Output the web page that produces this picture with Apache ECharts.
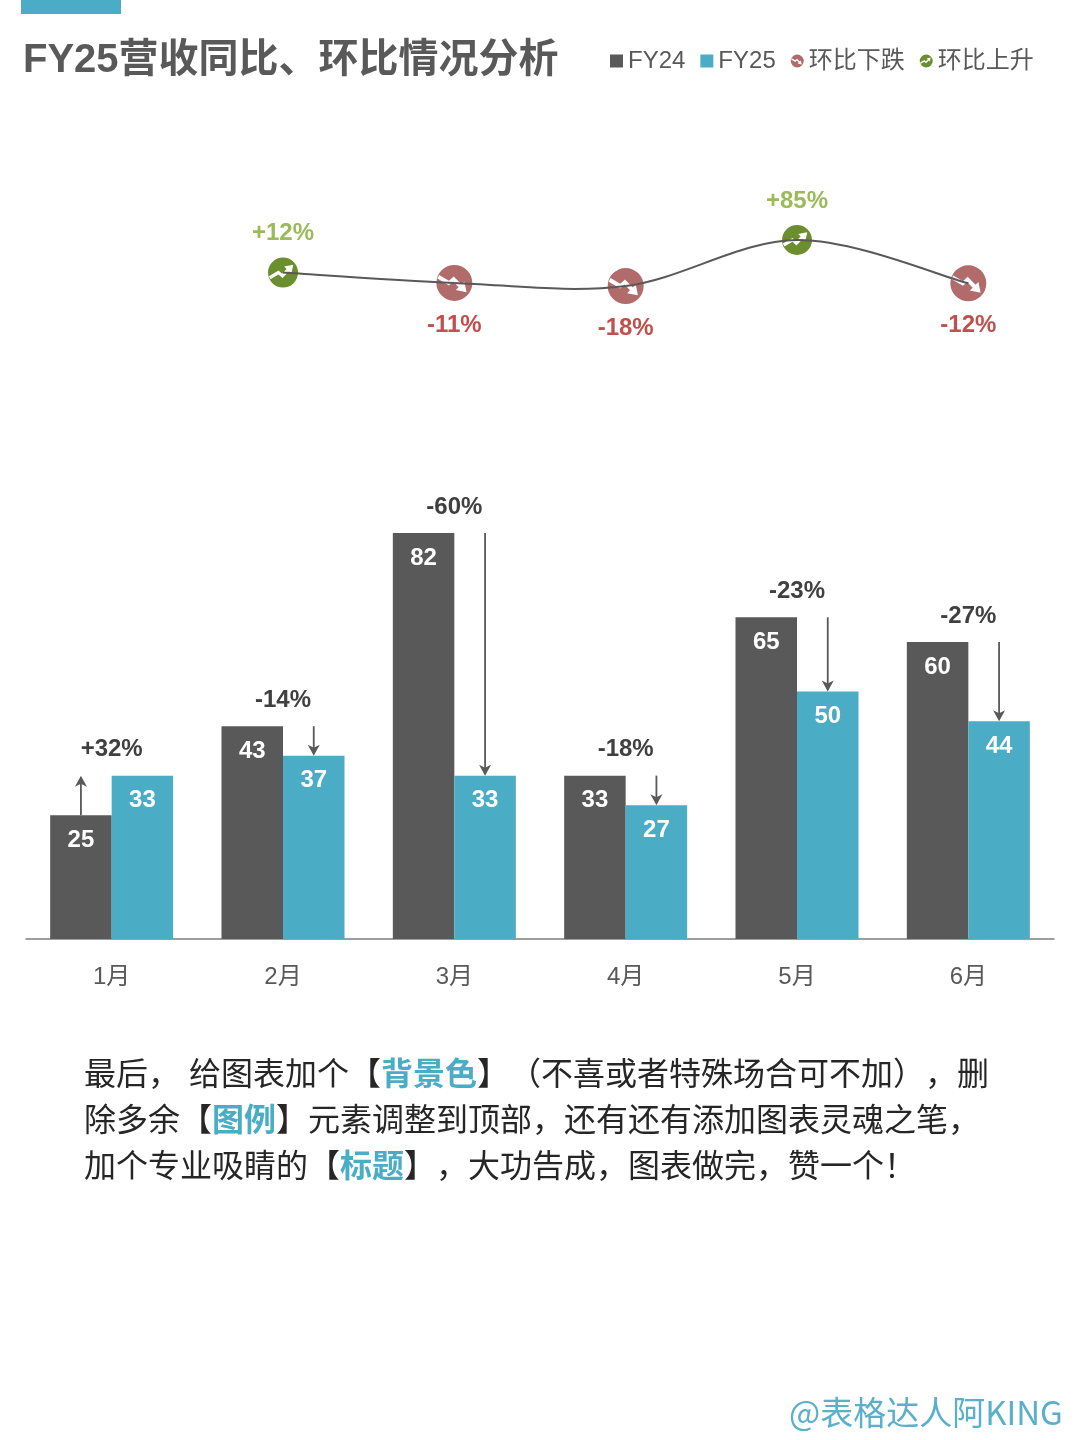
<!DOCTYPE html>
<html>
<head>
<meta charset="utf-8">
<title>FY25营收同比、环比情况分析</title>
<style>
    html, body { margin: 0; padding: 0; background: #fff; }
    #chart { width: 1080px; height: 1440px; }
</style>
<script src="https://cdn.jsdelivr.net/npm/echarts@6/dist/echarts.min.js"></script>
</head>
<body>
<div id="chart"></div>
<script>
// 图表数据
const months = ['1月', '2月', '3月', '4月', '5月', '6月'];
const fy24 = [25, 43, 82, 33, 65, 60];
const fy25 = [33, 37, 33, 27, 50, 44];
const yoyLabels = ['+32%', '-14%', '-60%', '-18%', '-23%', '-27%'];
const momValues = ['-', 12, -11, -18, 85, -12];
const momLabels = ['', '+12%', '-11%', '-18%', '+85%', '-12%'];

const FONT = '"Liberation Sans", "Noto Sans CJK SC", sans-serif';
const BAR_WIDTH = 61.5;
const TEAL = '#4BACC6';
const DARK = '#595959';

// 圆形图标，箭头部分是镂空的
const CIRCLE = 'M0 50A50 50 0 1 1 100 50A50 50 0 1 1 0 50Z';
const iconUp = 'path://' + CIRCLE + 'M8 72L35 56L48 68L70 46L78 54L84 24L54 30L62 38L47 54L35 43L3 62Z';
const iconDown = 'path://' + CIRCLE + 'M3 38L35 57L47 46L62 62L54 70L84 76L78 46L70 54L48 32L35 44L8 28Z';

// 环比折线只有2月到6月有值
const momLine = [];
momValues.forEach((v, i) => {
    if (v !== '-') momLine.push([i, v]);
});

// 按涨跌拆分环比散点
function momPoints(test) {
    return momLine.filter(p => test(p[1])).map(p => [p[0], p[1], momLabels[p[0]]]);
}

// 同比箭头和同比标签
function renderYoy(params, api) {
    const i = api.value(0);
    const from = api.coord([i, fy24[i]]);
    const to = api.coord([i, fy25[i]]);
    const top = api.coord([i, Math.max(fy24[i], fy25[i])]);
    const up = fy25[i] > fy24[i];
    const x = from[0] + (up ? -BAR_WIDTH / 2 : BAR_WIDTH / 2);
    const dir = up ? 1 : -1;
    return {
        type: 'group',
        children: [
            {
                type: 'line',
                shape: { x1: x, y1: from[1], x2: x, y2: to[1] + dir * 6 },
                style: { stroke: DARK, lineWidth: 1.8 }
            },
            {
                type: 'polygon',
                shape: { points: [[x, to[1]], [x - 6, to[1] + dir * 11], [x, to[1] + dir * 8], [x + 6, to[1] + dir * 11]] },
                style: { fill: DARK }
            },
            {
                type: 'text',
                style: {
                    text: yoyLabels[i],
                    x: top[0],
                    y: top[1] - 26,
                    align: 'center',
                    verticalAlign: 'middle',
                    fill: '#404040',
                    font: 'bold 24px ' + FONT
                }
            }
        ]
    };
}

// 环比曲线：原图的平滑线在拐点处有过冲，line 系列的 smooth 做不到，这里逐段画
function renderMomSegment(params, api) {
    const n = momLine.length;
    const k = params.dataIndex;
    if (k >= n - 1) return null;
    const pt = j => api.coord(momLine[Math.max(0, Math.min(n - 1, j))]);
    const p0 = pt(k - 1), p1 = pt(k), p2 = pt(k + 1), p3 = pt(k + 2);
    return {
        type: 'bezierCurve',
        shape: {
            x1: p1[0],
            y1: p1[1],
            x2: p2[0],
            y2: p2[1],
            cpx1: p1[0] + (p2[0] - p0[0]) / 6,
            cpy1: p1[1] + (p2[1] - p0[1]) / 6,
            cpx2: p2[0] - (p3[0] - p1[0]) / 6,
            cpy2: p2[1] - (p3[1] - p1[1]) / 6
        },
        style: { stroke: DARK, lineWidth: 2, fill: 'none' }
    };
}

function barLabel() {
    return {
        show: true,
        position: 'insideTop',
        distance: 13,
        color: '#fff',
        fontSize: 24,
        fontWeight: 'bold',
        fontFamily: FONT
    };
}

function momScatter(name, icon, size, color, labelColor, position, distance, data) {
    return {
        name: name,
        type: 'scatter',
        xAxisIndex: 1,
        yAxisIndex: 1,
        symbol: icon,
        symbolSize: size,
        itemStyle: { color: color, opacity: 1 },
        data: data,
        z: 2,
        label: {
            show: true,
            position: position,
            distance: distance,
            formatter: p => p.value[2],
            color: labelColor,
            fontSize: 24,
            fontWeight: 'bold',
            fontFamily: FONT
        }
    };
}

// 标点单独成段，避免浏览器把相邻的全角标点压缩
const paragraph = [
    '最后， 给图表加个【{hl|背景色}】{p|（}不喜或者特殊场合可不加{p|）}{p|，}删',
    '除多余【{hl|图例}】元素调整到顶部，还有还有添加图表灵魂之笔，',
    '加个专业吸睛的【{hl|标题}】{p|，}大功告成，图表做完，赞一个！'
].join('\n');

const chart = echarts.init(document.getElementById('chart'));

chart.setOption({
    animation: false,
    backgroundColor: '#fff',
    title: {
        text: 'FY25营收同比、环比情况分析',
        left: 23,
        top: 41,
        padding: 0,
        textStyle: { color: DARK, fontSize: 40, fontWeight: 'bold', fontFamily: FONT }
    },
    legend: {
        left: 610,
        top: 49,
        padding: 0,
        itemWidth: 13,
        itemHeight: 13,
        itemGap: 15,
        selectedMode: false,
        textStyle: { color: DARK, fontSize: 24, fontFamily: FONT },
        data: [
            { name: 'FY24', icon: 'rect' },
            { name: 'FY25', icon: 'rect' },
            { name: '环比下跌', icon: iconDown },
            { name: '环比上升', icon: iconUp }
        ]
    },
    grid: [
        { left: 26, width: 1028, top: 444, height: 495 },
        { left: 26, width: 1028, top: 233.3, height: 53.6 }
    ],
    xAxis: [
        {
            type: 'category',
            data: months,
            axisTick: { show: false },
            axisLine: { lineStyle: { color: '#7F7F7F', width: 1.5 } },
            axisLabel: { color: DARK, fontSize: 24, fontFamily: FONT, margin: 26 }
        },
        { type: 'category', data: months, gridIndex: 1, show: false }
    ],
    yAxis: [
        { type: 'value', min: 0, max: 100, show: false },
        { type: 'value', min: -20, max: 100, gridIndex: 1, show: false }
    ],
    series: [
        {
            name: 'FY24',
            type: 'bar',
            data: fy24,
            barWidth: BAR_WIDTH,
            barGap: 0,
            itemStyle: { color: DARK },
            label: barLabel()
        },
        {
            name: 'FY25',
            type: 'bar',
            data: fy25,
            barWidth: BAR_WIDTH,
            barGap: 0,
            itemStyle: { color: TEAL },
            label: barLabel()
        },
        {
            type: 'custom',
            data: months.map((m, i) => [i, Math.max(fy24[i], fy25[i])]),
            encode: { x: 0, y: 1 },
            renderItem: renderYoy,
            z: 5
        },
        momScatter('环比下跌', iconDown, 36, '#B26B6B', '#C0504D', 'bottom', 12, momPoints(v => v < 0)),
        momScatter('环比上升', iconUp, 30, '#6B8E2E', '#9BBB59', 'top', 12, momPoints(v => v >= 0)),
        {
            name: '环比',
            type: 'custom',
            xAxisIndex: 1,
            yAxisIndex: 1,
            data: momLine,
            encode: { x: 0, y: 1 },
            renderItem: renderMomSegment,
            z: 4
        }
    ],
    graphic: [
        {
            // 顶部色块
            type: 'rect',
            left: 21,
            top: 0,
            shape: { width: 100, height: 14 },
            style: { fill: TEAL }
        },
        {
            type: 'text',
            left: 84,
            top: 1053,
            style: {
                text: paragraph,
                fill: '#262626',
                font: '32px ' + FONT,
                lineHeight: 46,
                rich: {
                    hl: {
                        fill: TEAL,
                        font: 'bold 32px ' + FONT,
                        lineHeight: 46
                    },
                    p: {
                        fill: '#262626',
                        font: '32px ' + FONT,
                        lineHeight: 46
                    }
                }
            }
        },
        {
            // 水印
            type: 'text',
            left: 789,
            top: 1396,
            style: {
                text: '@表格达人阿KING',
                fill: '#58B0CA',
                font: '33px "Noto Sans CJK SC", sans-serif'
            }
        }
    ]
});
</script>
</body>
</html>
